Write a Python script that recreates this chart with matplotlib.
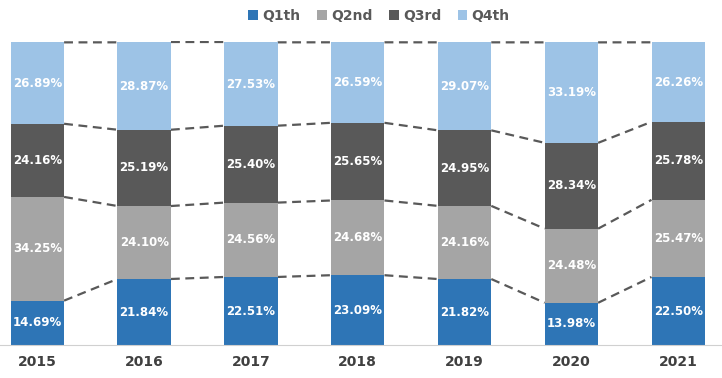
import matplotlib.pyplot as plt
import numpy as np

years = ['2015', '2016', '2017', '2018', '2019', '2020', '2021']
q1 = [14.69, 21.84, 22.51, 23.09, 21.82, 13.98, 22.50]
q2 = [34.25, 24.10, 24.56, 24.68, 24.16, 24.48, 25.47]
q3 = [24.16, 25.19, 25.40, 25.65, 24.95, 28.34, 25.78]
q4 = [26.89, 28.87, 27.53, 26.59, 29.07, 33.19, 26.26]
names = ['Q1th', 'Q2nd', 'Q3rd', 'Q4th']
colors = ['#2E75B6', '#A5A5A5', '#595959', '#9DC3E6']

series = [q1, q2, q3, q4]
x = np.arange(len(years))
w = 0.5

fig = plt.figure(figsize=(7.22, 3.78), dpi=100)
ax = fig.add_axes([0.0, 0.087, 1.0, 0.805])

bottom = np.zeros(len(years))
for vals, c, n in zip(series, colors, names):
    vals = np.array(vals)
    ax.bar(x, vals, w, bottom=bottom, color=c, label=n, zorder=2)
    for xi, b, v in zip(x, bottom, vals):
        ax.text(xi, b + v / 2, f'{v:.2f}%', ha='center', va='center',
                color='white', fontsize=8.5, fontweight='bold', zorder=3)
    bottom = bottom + vals
    # dashed connectors between bar edges
    for i in range(len(years) - 1):
        ax.plot([x[i] + w / 2, x[i + 1] - w / 2], [bottom[i], bottom[i + 1]],
                ls=(0, (4, 2.5)), color='#595959', lw=1.6, zorder=1)

ax.set_xlim(-0.35, 6.41)
ax.set_ylim(0, 100.5)
ax.set_yticks([])
ax.set_xticks(x)
ax.set_xticklabels(years, fontsize=10, fontweight='bold', color='#404040')
ax.tick_params(axis='x', length=0, pad=7)
for s in ['top', 'left', 'right']:
    ax.spines[s].set_visible(False)
ax.spines['bottom'].set_color('#D0D0D0')

leg = fig.legend(loc='upper center', bbox_to_anchor=(0.525, 1.01), ncol=4,
                 frameon=False, handlelength=0.7, handleheight=0.7,
                 handletextpad=0.3, columnspacing=1.2,
                 prop={'weight': 'bold', 'size': 10})
for t in leg.get_texts():
    t.set_color('#595959')

fig.savefig('out.png', dpi=100)
